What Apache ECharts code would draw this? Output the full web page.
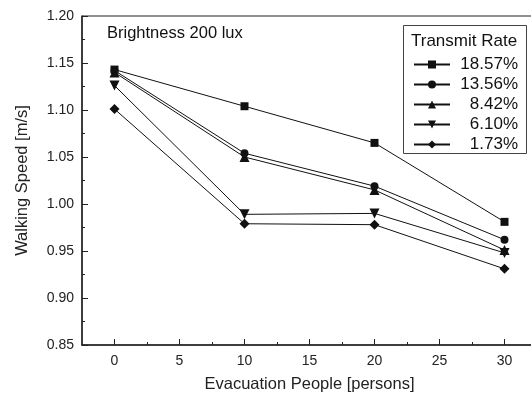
<!DOCTYPE html>
<html><head><meta charset="utf-8">
<script src="https://cdn.jsdelivr.net/npm/echarts@6/dist/echarts.min.js"></script>
<style>html,body{margin:0;padding:0;background:#fff}#c{width:531px;height:396px}</style>
</head><body><div id="c"></div>
<script>
const people = [0, 10, 20, 30];
const seriesNames = ['18.57%', '13.56%', '8.42%', '6.10%', '1.73%'];
const s1857 = [1.143, 1.104, 1.065, 0.981];
const s1356 = [1.142, 1.054, 1.019, 0.962];
const s842 = [1.140, 1.050, 1.015, 0.951];
const s610 = [1.126, 0.989, 0.990, 0.948];
const s173 = [1.101, 0.979, 0.978, 0.931];
const xMajorTicks = [0, 5, 10, 15, 20, 25, 30];
const xMinorTicks = [2.5, 7.5, 12.5, 17.5, 22.5, 27.5];

const values = [s1857, s1356, s842, s610, s173];
const symbols = ['rect', 'circle', 'triangle', 'path://M0,0 L10,0 L5,10 Z', 'diamond'];
const sizes = [8, 8, 10, 10, 10];
const FONT = 'Liberation Sans, Arial, sans-serif';

const chart = echarts.init(document.getElementById('c'));
chart.setOption({
  animation: false,
  backgroundColor: '#fff',
  grid: { left: 82, top: 16, width: 455, height: 329, outerBoundsMode: 'none', containLabel: false, show: true, borderColor: '#222', borderWidth: 1 },
  xAxis: [{
    type: 'value', min: -2.5, max: 32.5,
    name: 'Evacuation People [persons]', nameLocation: 'middle', nameGap: 31,
    nameTextStyle: { fontFamily: FONT, fontSize: 16.5, color: '#222' },
    axisLine: { onZero: false, lineStyle: { color: '#222', width: 1.5 } },
    axisTick: { inside: true, length: 6, customValues: xMajorTicks, lineStyle: { color: '#222' } },
    axisLabel: { customValues: xMajorTicks, margin: 9, fontFamily: FONT, fontSize: 14, color: '#222' },
    splitLine: { show: false }
  }, {
    type: 'value', min: -2.5, max: 32.5, position: 'bottom',
    axisLine: { show: false, onZero: false },
    axisTick: { inside: true, length: 3, customValues: xMinorTicks, lineStyle: { color: '#222' } },
    axisLabel: { show: false },
    splitLine: { show: false }
  }],
  yAxis: {
    type: 'value', min: 0.85, max: 1.20, interval: 0.05,
    name: 'Walking Speed [m/s]', nameLocation: 'middle', nameGap: 51,
    nameTextStyle: { fontFamily: FONT, fontSize: 16.5, color: '#222' },
    axisLine: { show: true, onZero: false, lineStyle: { color: '#222', width: 1.5 } },
    axisTick: { inside: true, length: 6, lineStyle: { color: '#222' } },
    minorTick: { show: true, splitNumber: 2, length: 3, lineStyle: { color: '#222' } },
    axisLabel: { margin: 8, fontFamily: FONT, fontSize: 14, color: '#222', formatter: v => v.toFixed(2) },
    splitLine: { show: false }
  },
  legend: {
    orient: 'vertical', left: 408, top: 51, itemWidth: 36, itemHeight: 10, itemGap: 3,
    data: seriesNames,
    formatter: n => '{a|' + n + '}',
    textStyle: { fontFamily: FONT, fontSize: 17, color: '#111', rich: { a: { width: 63, align: 'right', fontFamily: FONT, fontSize: 17, color: '#111' } } }
  },
  graphic: [
    { type: 'rect', left: 401, top: 23, shape: { width: 123, height: 128 }, style: { fill: 'none', stroke: '#444', lineWidth: 1 } },
    { type: 'text', left: 411, top: 33, style: { text: 'Transmit Rate', fontFamily: FONT, fontSize: 17, fill: '#111' } },
    { type: 'text', left: 107, top: 25, style: { text: 'Brightness 200 lux', fontFamily: FONT, fontSize: 16.5, fill: '#111' } }
  ],
  series: values.map((v, i) => ({
    name: seriesNames[i], type: 'line',
    data: people.map((p, j) => [p, v[j]]),
    symbol: symbols[i], symbolSize: sizes[i], showSymbol: true,
    lineStyle: { color: '#111', width: 1 },
    itemStyle: { color: '#111' },
    z: 10 - i
  }))
});
</script></body></html>
